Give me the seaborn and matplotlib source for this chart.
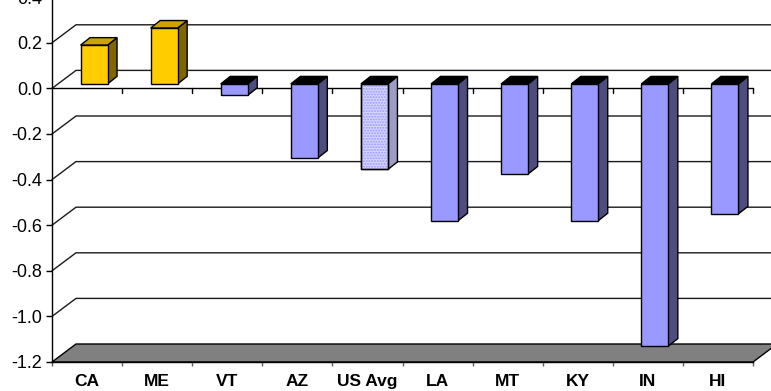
import matplotlib
matplotlib.use("Agg")
import matplotlib.pyplot as plt
import pandas as pd
import seaborn as sns
from matplotlib.patches import Polygon, Rectangle

# Change by state (with the US average as reference)
states = ["CA", "ME", "VT", "AZ", "US Avg", "LA", "MT", "KY", "IN", "HI"]
change = [0.17, 0.245, -0.05, -0.325, -0.375, -0.60, -0.395, -0.60, -1.15, -0.57]
y_ticks = [-1.2, -1.0, -0.8, -0.6, -0.4, -0.2, 0.0, 0.2, 0.4]
y_labels = ["-1.2", "-1.0", "-0.8", "-0.6", "-0.4", "-0.2", "0.0", "0.2", "0.4"]

GOLD, GOLD_TOP, GOLD_SIDE = "#FFCC00", "#CCA300", "#806600"
BLUE, BLUE_TOP, BLUE_SIDE = "#9999FF", "#000000", "#4D4D80"
AVG_FACE, AVG_SIDE = "#D6D6FF", "#9C9CC4"

sns.set_theme(style="white")
plt.rcParams["font.family"] = ["Liberation Sans", "DejaVu Sans"]
plt.rcParams["axes.unicode_minus"] = False

DPI = 100
fig = plt.figure(figsize=(7.71, 3.91), dpi=DPI)
fig.patch.set_facecolor("white")
ax = fig.add_axes([52 / 771, 29 / 391, 701 / 771, 364.8 / 391])

df = pd.DataFrame({"state": states, "change": change})
palette = {s: (GOLD if v > 0 else BLUE) for s, v in zip(states, change)}
palette["US Avg"] = AVG_FACE
sns.barplot(data=df, x="state", y="change", hue="state", palette=palette,
            width=0.385, legend=False, ax=ax, edgecolor="black",
            linewidth=1.0, saturation=1, zorder=5)
bars = list(ax.patches)

ax.set_xlim(-0.5, 9.5)
ax.set_ylim(-1.2, 0.4)
ax.set_xlabel("")
ax.set_ylabel("")


def px_to_data(dx, dy):
    """Convert a screen offset in pixels to a data-space offset."""
    o = ax.transData.transform((0, 0))
    p = ax.transData.inverted().transform((o[0] + dx, o[1] + dy))
    return p[0], p[1]


wall_dx, wall_dy = px_to_data(24, 18)      # depth of the whole chart box
front_dx, front_dy = px_to_data(7, 4.5)    # bars sit a little behind the front
bar_dx, bar_dy = px_to_data(9.5, 7.5)      # depth of each bar
_, tick_dy = px_to_data(0, 4.5)

# floor
floor = Polygon([(-0.5, -1.2), (9.5, -1.2), (9.5 + wall_dx, -1.2 + wall_dy),
                 (-0.5 + wall_dx, -1.2 + wall_dy)], closed=True,
                facecolor="#808080", edgecolor="black", lw=1.0,
                zorder=1.5, clip_on=False)
ax.add_patch(floor)

# gridlines on the side and back walls
for yv in y_ticks[1:]:
    ax.plot([-0.5, -0.5 + wall_dx, 11], [yv, yv + wall_dy, yv + wall_dy],
            color="#1a1a1a", lw=1.0, zorder=1, clip_on=False,
            solid_joinstyle="miter")

# category axis drawn at zero
ax.plot([-0.5, 9.5], [0, 0], color="black", lw=1.0, zorder=2, clip_on=False)
for k in range(1, 11):
    xb = -0.5 + k
    ax.plot([xb, xb], [0, -tick_dy], color="black", lw=1.0, zorder=2,
            clip_on=False)

# 3-D faces for each bar
for patch, name, val in zip(bars, states, change):
    x0 = patch.get_x() + front_dx
    w = patch.get_width()
    patch.set_x(x0)
    patch.set_y(patch.get_y() + front_dy)
    x1 = x0 + w
    top = max(val, 0) + front_dy
    bot = min(val, 0) + front_dy
    if name == "US Avg":
        top_c, side_c = BLUE_TOP, AVG_SIDE
    elif val > 0:
        top_c, side_c = GOLD_TOP, GOLD_SIDE
    else:
        top_c, side_c = BLUE_TOP, BLUE_SIDE
    side = Polygon([(x1, bot), (x1, top), (x1 + bar_dx, top + bar_dy),
                    (x1 + bar_dx, bot + bar_dy)], closed=True,
                   facecolor=side_c, edgecolor="black", lw=1.0, zorder=4)
    cap = Polygon([(x0, top), (x1, top), (x1 + bar_dx, top + bar_dy),
                   (x0 + bar_dx, top + bar_dy)], closed=True,
                  facecolor=top_c, edgecolor="black", lw=1.0, zorder=4)
    ax.add_patch(side)
    ax.add_patch(cap)
    if name == "US Avg":
        # fine stipple over the average bar
        ax.add_patch(Rectangle((x0, bot), w, top - bot, facecolor="none",
                               edgecolor=BLUE, hatch="......", lw=0,
                               zorder=5.5))
        ax.add_patch(Rectangle((x0, bot), w, top - bot, facecolor="none",
                               edgecolor="black", lw=1.0, zorder=5.6))

# axes styling
for sp in ["top", "right"]:
    ax.spines[sp].set_visible(False)
ax.spines["left"].set_color("black")
ax.spines["left"].set_linewidth(1.0)
ax.spines["bottom"].set_color("black")
ax.spines["bottom"].set_linewidth(1.0)
ax.spines["left"].set_clip_on(False)

ax.set_yticks(y_ticks)
ax.set_yticklabels(y_labels)
ax.tick_params(axis="y", left=True, length=4.3, width=1.0, pad=2.9,
               labelsize=13, colors="black", direction="out")

ax.set_xticks(range(len(states)))
ax.set_xticklabels(states, fontweight="bold")
ax.set_xticks([k - 0.5 for k in range(len(states) + 1)], minor=True)
ax.tick_params(axis="x", which="major", bottom=True, length=0, pad=8.8,
               labelsize=12.5, colors="black")
ax.tick_params(axis="x", which="minor", bottom=True, length=3.2, width=1.0,
               color="#606060", direction="out")

fig.savefig("out.png", dpi=DPI, facecolor="white")
